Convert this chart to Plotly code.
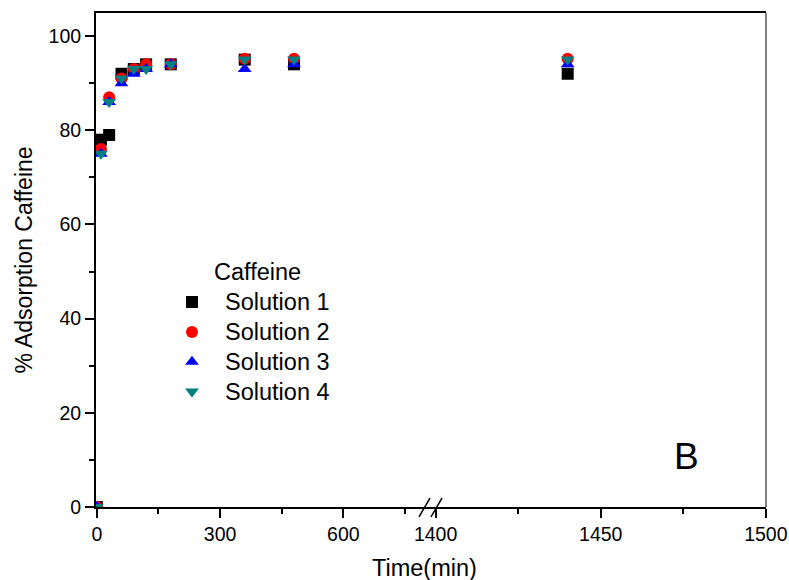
import plotly.graph_objects as go

# Sampling times (min) and caffeine adsorption (%) for each solution
time_min = [0, 10, 30, 60, 90, 120, 180, 360, 480, 1440]
solution_1 = [0, 78, 79, 92, 93, 94, 94, 95, 94, 92]
solution_2 = [0, 76, 87, 91, 93, 94, 94, 95.2, 95.2, 95.2]
solution_3 = [0, 75, 86, 90, 92, 93, 94, 93, 94, 94]
solution_4 = [0, 75, 86, 91, 93, 93, 94, 95, 95, 95]

series_names = ["Solution 1", "Solution 2", "Solution 3", "Solution 4"]
series_values = [solution_1, solution_2, solution_3, solution_4]
series_colors = ["#000000", "#FF0000", "#0000FF", "#008080"]
series_symbols = ["square", "circle", "triangle-up", "triangle-down"]

# Broken time axis: early segment and late segment
BREAK_AT = 1000
left_ticks = [0, 300, 600]
right_ticks = [1400, 1450, 1500]
y_ticks = [0, 20, 40, 60, 80, 100]

FONT = "Liberation Sans, Arial, sans-serif"
NBSP = "\u00a0"
MARKER_SIZE = 12

fig = go.Figure()
for name, vals, color, sym in zip(series_names, series_values, series_colors, series_symbols):
    early = [(t, v) for t, v in zip(time_min, vals) if t < BREAK_AT]
    late = [(t, v) for t, v in zip(time_min, vals) if t >= BREAK_AT]
    label = "<span style='font-size:23.5px'>" + NBSP * 2 + name + "</span>"
    fig.add_trace(go.Scatter(
        x=[p[0] for p in early], y=[p[1] for p in early],
        mode="markers", name=label, legendgroup=name,
        marker=dict(symbol=sym, size=MARKER_SIZE, color=color),
        xaxis="x", yaxis="y",
    ))
    fig.add_trace(go.Scatter(
        x=[p[0] for p in late], y=[p[1] for p in late],
        mode="markers", name=label, legendgroup=name, showlegend=False,
        marker=dict(symbol=sym, size=MARKER_SIZE, color=color),
        xaxis="x2", yaxis="y",
    ))

SPLIT = 0.4985
axis_common = dict(
    showline=True, linecolor="black", linewidth=2,
    ticks="outside", ticklen=9, tickwidth=1.5, tickcolor="black",
    showgrid=False, zeroline=False, mirror=True, automargin=False,
    tickfont=dict(family=FONT, size=19.5, color="black"),
)

fig.update_layout(
    width=789, height=580,
    margin=dict(l=96, r=23, t=13, b=73),
    paper_bgcolor="white", plot_bgcolor="white",
    font=dict(family=FONT, color="black"),
    showlegend=True,
    xaxis=dict(
        domain=[0, SPLIT], range=[-2, 811],
        tickvals=left_ticks,
        minor=dict(tickvals=[150, 450, 750], ticks="outside", ticklen=5,
                   tickwidth=1.5, tickcolor="black"),
        **axis_common,
    ),
    xaxis2=dict(
        domain=[SPLIT, 1], range=[1398.3, 1500.05], anchor="y",
        tickvals=right_ticks,
        minor=dict(tickvals=[1425, 1475], ticks="outside", ticklen=5,
                   tickwidth=1.5, tickcolor="black"),
        **axis_common,
    ),
    yaxis=dict(
        range=[0, 104.9], tickvals=y_ticks,
        showline=True, linecolor="black", linewidth=2,
        ticks="outside", ticklen=9, tickwidth=1.5, tickcolor="black",
        showgrid=False, zeroline=False, automargin=False,
        tickfont=dict(family=FONT, size=19.5, color="black"),
        minor=dict(tickvals=[10, 30, 50, 70, 90], ticks="outside", ticklen=5,
                   tickwidth=1.5, tickcolor="black"),
        title=dict(text="% Adsorption Caffeine", font=dict(family=FONT, size=23),
                   standoff=10),
    ),
    legend=dict(
        x=0.1134, y=0.455, xanchor="left", yanchor="top",
        bgcolor="rgba(0,0,0,0)", borderwidth=0,
        font=dict(family=FONT, size=20.6, color="black"),
        tracegroupgap=0,
    ),
)

# Axis title under the broken axis
fig.add_annotation(
    text="Time(min)", xref="paper", yref="paper", x=0.4896, y=-0.124,
    xanchor="center", yanchor="middle", showarrow=False,
    font=dict(family=FONT, size=23.5, color="black"),
)
# Legend heading
fig.add_annotation(
    text="Caffeine", xref="paper", yref="paper", x=0.1731, y=0.4757,
    xanchor="left", yanchor="middle", showarrow=False,
    font=dict(family=FONT, size=23.5, color="black"),
)
# Panel letter
fig.add_annotation(
    text="B", xref="paper", yref="paper", x=0.8806, y=0.103,
    xanchor="center", yanchor="middle", showarrow=False,
    font=dict(family=FONT, size=37, color="black"),
)

# Right frame edge in grey
fig.add_shape(type="line", xref="paper", yref="paper", x0=1, x1=1, y0=0, y1=1,
              line=dict(color="#808080", width=2))
# Axis break marks
for x0, x1 in ((0.4821, 0.4985), (0.5000, 0.5164)):
    fig.add_shape(type="line", xref="paper", yref="paper",
                  x0=x0, x1=x1, y0=-0.0202, y1=0.0182,
                  line=dict(color="black", width=1.5))

fig.write_html("out.html")
